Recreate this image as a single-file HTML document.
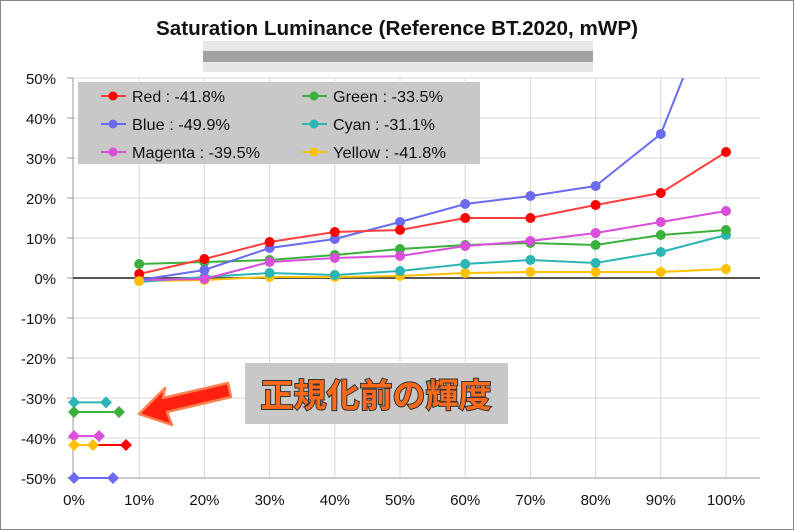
<!DOCTYPE html>
<html><head><meta charset="utf-8"><style>
html,body{margin:0;padding:0;background:#fff}
svg{display:block}
text{font-family:"Liberation Sans","Noto Sans CJK JP",sans-serif}
</style></head><body>
<svg width="794" height="530" xmlns="http://www.w3.org/2000/svg">
<defs><clipPath id="pc"><rect x="60" y="78" width="700" height="410"/></clipPath></defs>
<rect x="0.5" y="0.5" width="793" height="529" fill="#fff" stroke="#888"/>
<text x="397" y="35" text-anchor="middle" font-size="20" font-weight="bold" fill="#111" textLength="482" lengthAdjust="spacingAndGlyphs">Saturation Luminance (Reference BT.2020, mWP)</text>
<g opacity="0.8">
<rect x="203" y="41" width="390" height="31" fill="#e2e2e2"/>
<rect x="203" y="51" width="390" height="11" fill="#8a8a8a"/>
</g>
<g stroke="#d9d9d9" stroke-width="1">
<line x1="73" y1="78" x2="760" y2="78"/><line x1="73" y1="118" x2="760" y2="118"/><line x1="73" y1="158" x2="760" y2="158"/><line x1="73" y1="198" x2="760" y2="198"/><line x1="73" y1="238" x2="760" y2="238"/><line x1="73" y1="318" x2="760" y2="318"/><line x1="73" y1="358" x2="760" y2="358"/><line x1="73" y1="398" x2="760" y2="398"/><line x1="73" y1="438" x2="760" y2="438"/>
<line x1="139.2" y1="78" x2="139.2" y2="478"/><line x1="204.4" y1="78" x2="204.4" y2="478"/><line x1="269.6" y1="78" x2="269.6" y2="478"/><line x1="334.8" y1="78" x2="334.8" y2="478"/><line x1="400" y1="78" x2="400" y2="478"/><line x1="465.2" y1="78" x2="465.2" y2="478"/><line x1="530.4" y1="78" x2="530.4" y2="478"/><line x1="595.6" y1="78" x2="595.6" y2="478"/><line x1="660.8" y1="78" x2="660.8" y2="478"/><line x1="726" y1="78" x2="726" y2="478"/>
</g>
<line x1="73" y1="78" x2="73" y2="478" stroke="#999"/>
<line x1="73" y1="478" x2="760" y2="478" stroke="#999"/>
<g stroke="#999"><line x1="67" y1="78" x2="73" y2="78"/><line x1="67" y1="118" x2="73" y2="118"/><line x1="67" y1="158" x2="73" y2="158"/><line x1="67" y1="198" x2="73" y2="198"/><line x1="67" y1="238" x2="73" y2="238"/><line x1="67" y1="278" x2="73" y2="278"/><line x1="67" y1="318" x2="73" y2="318"/><line x1="67" y1="358" x2="73" y2="358"/><line x1="67" y1="398" x2="73" y2="398"/><line x1="67" y1="438" x2="73" y2="438"/><line x1="67" y1="478" x2="73" y2="478"/></g>
<line x1="73" y1="278" x2="760" y2="278" stroke="#555" stroke-width="2"/>
<g font-size="15" fill="#111" text-anchor="end">
<text x="56" y="84">50%</text><text x="56" y="124">40%</text><text x="56" y="164">30%</text><text x="56" y="204">20%</text><text x="56" y="244">10%</text><text x="56" y="284">0%</text><text x="56" y="324">-10%</text><text x="56" y="364">-20%</text><text x="56" y="404">-30%</text><text x="56" y="444">-40%</text><text x="56" y="484">-50%</text>
</g>
<g font-size="15" fill="#111" text-anchor="middle">
<text x="74" y="505">0%</text><text x="139.2" y="505">10%</text><text x="204.4" y="505">20%</text><text x="269.6" y="505">30%</text><text x="334.8" y="505">40%</text><text x="400" y="505">50%</text><text x="465.2" y="505">60%</text><text x="530.4" y="505">70%</text><text x="595.6" y="505">80%</text><text x="660.8" y="505">90%</text><text x="726" y="505">100%</text>
</g>
<g clip-path="url(#pc)" stroke-width="2" fill="none">
<polyline stroke="#FFC000" points="139.2,281 204.4,280 269.6,277 334.8,277 400,276 465.2,273 530.4,272 595.6,272 660.8,272 726,269"/>
<polyline stroke="#2CB5B5" points="139.2,282 204.4,277 269.6,273 334.8,275 400,271 465.2,264 530.4,260 595.6,263 660.8,252 726,235"/>
<polyline stroke="#3CB03C" points="139.2,264 204.4,262 269.6,260 334.8,255 400,249 465.2,245 530.4,243 595.6,245 660.8,235 726,230"/>
<polyline stroke="#D94FD9" points="139.2,280 204.4,279 269.6,262 334.8,258 400,256 465.2,246 530.4,241 595.6,233 660.8,222 726,211"/>
<polyline stroke="#6B6BF0" points="139.2,280 204.4,270 269.6,248 334.8,239 400,222 465.2,204 530.4,196 595.6,186 660.8,134 726,-30"/>
<polyline stroke="#FF4040" points="139.2,274 204.4,259 269.6,242 334.8,232 400,230 465.2,218 530.4,218 595.6,205 660.8,193 726,152"/>
</g>
<g>
<g fill="#FFC000"><circle cx="139.2" cy="281" r="5"/><circle cx="204.4" cy="280" r="5"/><circle cx="269.6" cy="277" r="5"/><circle cx="334.8" cy="277" r="5"/><circle cx="400" cy="276" r="5"/><circle cx="465.2" cy="273" r="5"/><circle cx="530.4" cy="272" r="5"/><circle cx="595.6" cy="272" r="5"/><circle cx="660.8" cy="272" r="5"/><circle cx="726" cy="269" r="5"/></g>
<g fill="#2CB5B5"><circle cx="204.4" cy="277" r="5"/><circle cx="269.6" cy="273" r="5"/><circle cx="334.8" cy="275" r="5"/><circle cx="400" cy="271" r="5"/><circle cx="465.2" cy="264" r="5"/><circle cx="530.4" cy="260" r="5"/><circle cx="595.6" cy="263" r="5"/><circle cx="660.8" cy="252" r="5"/><circle cx="726" cy="235" r="5"/></g>
<g fill="#3CB03C"><circle cx="139.2" cy="264" r="5"/><circle cx="204.4" cy="262" r="5"/><circle cx="269.6" cy="260" r="5"/><circle cx="334.8" cy="255" r="5"/><circle cx="400" cy="249" r="5"/><circle cx="465.2" cy="245" r="5"/><circle cx="530.4" cy="243" r="5"/><circle cx="595.6" cy="245" r="5"/><circle cx="660.8" cy="235" r="5"/><circle cx="726" cy="230" r="5"/></g>
<g fill="#D94FD9"><circle cx="139.2" cy="280" r="5"/><circle cx="204.4" cy="279" r="5"/><circle cx="269.6" cy="262" r="5"/><circle cx="334.8" cy="258" r="5"/><circle cx="400" cy="256" r="5"/><circle cx="465.2" cy="246" r="5"/><circle cx="530.4" cy="241" r="5"/><circle cx="595.6" cy="233" r="5"/><circle cx="660.8" cy="222" r="5"/><circle cx="726" cy="211" r="5"/></g>
<g fill="#6B6BF0"><circle cx="204.4" cy="270" r="5"/><circle cx="269.6" cy="248" r="5"/><circle cx="334.8" cy="239" r="5"/><circle cx="400" cy="222" r="5"/><circle cx="465.2" cy="204" r="5"/><circle cx="530.4" cy="196" r="5"/><circle cx="595.6" cy="186" r="5"/><circle cx="660.8" cy="134" r="5"/></g>
<g fill="#FF0000"><circle cx="139.2" cy="274" r="5"/><circle cx="204.4" cy="259" r="5"/><circle cx="269.6" cy="242" r="5"/><circle cx="334.8" cy="232" r="5"/><circle cx="400" cy="230" r="5"/><circle cx="465.2" cy="218" r="5"/><circle cx="530.4" cy="218" r="5"/><circle cx="595.6" cy="205" r="5"/><circle cx="660.8" cy="193" r="5"/><circle cx="726" cy="152" r="5"/></g>
<circle cx="139.2" cy="281" r="5" fill="#FFC000"/>
</g>
<g stroke-width="2">
<line x1="74" y1="402.4" x2="106" y2="402.4" stroke="#2CB5B5"/>
<line x1="74" y1="412" x2="119" y2="412" stroke="#3CB03C"/>
<line x1="74" y1="436" x2="99" y2="436" stroke="#D94FD9"/>
<line x1="93" y1="445" x2="126" y2="445" stroke="#FF0000"/>
<line x1="74" y1="445" x2="93" y2="445" stroke="#FFC000"/>
<line x1="74" y1="478" x2="113" y2="478" stroke="#6B6BF0"/>
</g>
<g>
<path d="M74,396.4 l6,6 -6,6 -6,-6z M106,396.4 l6,6 -6,6 -6,-6z" fill="#2CB5B5"/>
<path d="M74,406 l6,6 -6,6 -6,-6z M119,406 l6,6 -6,6 -6,-6z" fill="#3CB03C"/>
<path d="M74,430 l6,6 -6,6 -6,-6z M99,430 l6,6 -6,6 -6,-6z" fill="#D94FD9"/>
<path d="M126,439 l6,6 -6,6 -6,-6z" fill="#FF0000"/>
<path d="M74,439 l6,6 -6,6 -6,-6z M93,439 l6,6 -6,6 -6,-6z" fill="#FFC000"/>
<path d="M74,472 l6,6 -6,6 -6,-6z M113,472 l6,6 -6,6 -6,-6z" fill="#6B6BF0"/>
</g>
<rect x="78" y="82" width="402" height="82" fill="#c8c8c8"/>
<g stroke-width="2">
<line x1="101" y1="96" x2="126" y2="96" stroke="#FF4040"/><circle cx="113" cy="96" r="4.5" fill="#FF0000"/>
<line x1="101" y1="124" x2="126" y2="124" stroke="#6B6BF0"/><circle cx="113" cy="124" r="4.5" fill="#6B6BF0"/>
<line x1="101" y1="152" x2="126" y2="152" stroke="#D94FD9"/><circle cx="113" cy="152" r="4.5" fill="#D94FD9"/>
<line x1="302" y1="96" x2="327" y2="96" stroke="#3CB03C"/><circle cx="314" cy="96" r="4.5" fill="#3CB03C"/>
<line x1="302" y1="124" x2="327" y2="124" stroke="#2CB5B5"/><circle cx="314" cy="124" r="4.5" fill="#2CB5B5"/>
<line x1="302" y1="152" x2="327" y2="152" stroke="#FFC000"/><circle cx="314" cy="152" r="4.5" fill="#FFC000"/>
</g>
<g font-size="16" fill="#111" lengthAdjust="spacingAndGlyphs">
<text x="132" y="102" textLength="93" lengthAdjust="spacingAndGlyphs">Red : -41.8%</text>
<text x="132" y="130" textLength="98" lengthAdjust="spacingAndGlyphs">Blue : -49.9%</text>
<text x="132" y="158" textLength="128" lengthAdjust="spacingAndGlyphs">Magenta : -39.5%</text>
<text x="333" y="102" textLength="110" lengthAdjust="spacingAndGlyphs">Green : -33.5%</text>
<text x="333" y="130" textLength="102" lengthAdjust="spacingAndGlyphs">Cyan : -31.1%</text>
<text x="333" y="158" textLength="113" lengthAdjust="spacingAndGlyphs">Yellow : -41.8%</text>
</g>
<rect x="245" y="363" width="263" height="61" fill="#c8c8c8"/>
<text x="376" y="407" text-anchor="middle" font-size="33" font-weight="bold" fill="#FF6A1A" stroke="#333" stroke-width="2" paint-order="stroke" font-family="Noto Sans CJK JP,sans-serif">正規化前の輝度</text>
<polygon points="139,414 165,388 163,398 228,383 231,397 167,412 172,425" fill="#FF2010" stroke="#FF8050" stroke-width="2.5" stroke-linejoin="round"/>
</svg>
</body></html>
